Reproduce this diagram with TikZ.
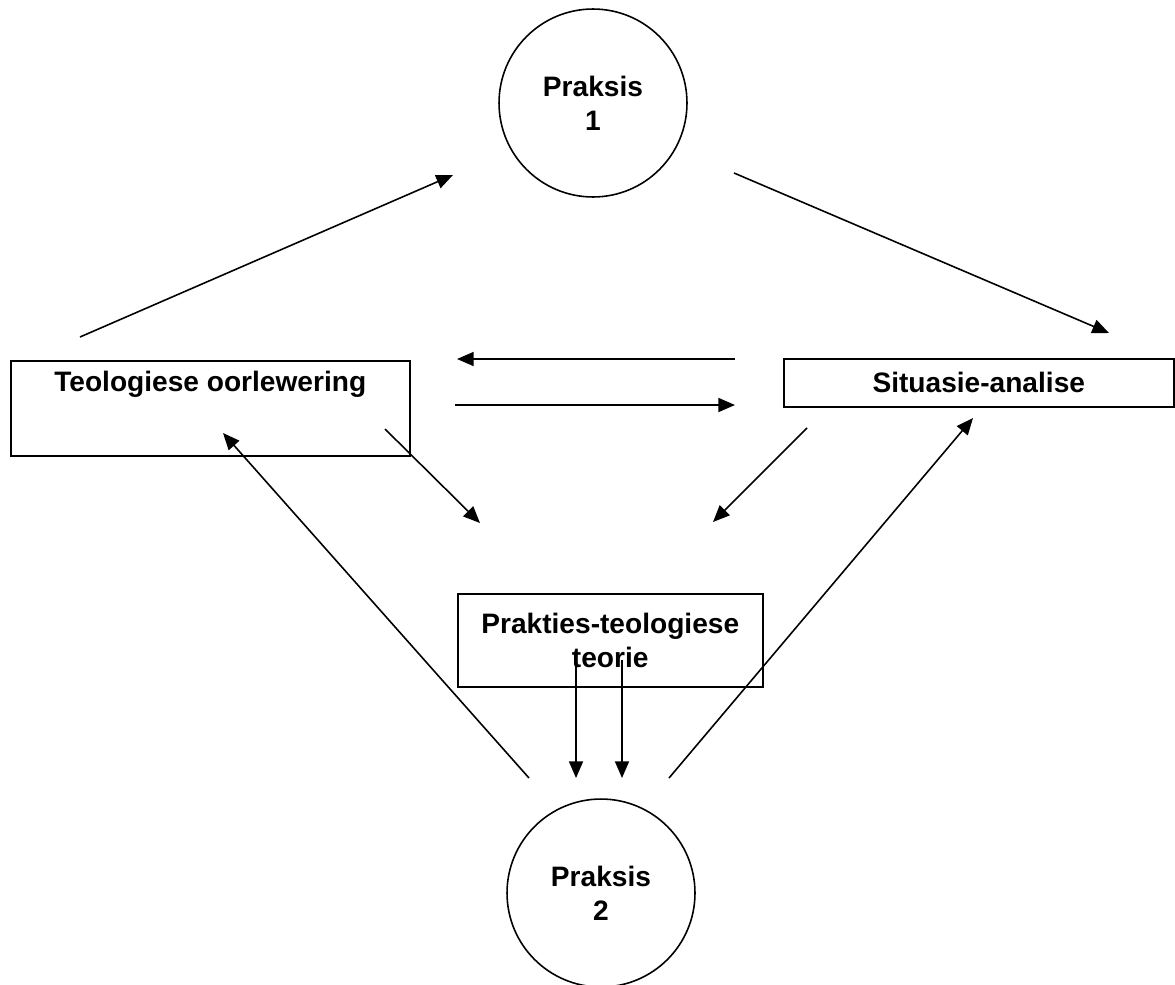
\documentclass[tikz,border=0pt]{standalone}
\usepackage{fontspec}
\setmainfont{Liberation Sans}
\usepackage{tikz}
\usetikzlibrary{arrows.meta}
\tikzset{
  kring/.style={draw, circle, line width=0.9pt, minimum size=3.76cm, inner sep=0pt,
    align=center, font=\fontsize{16}{19.3}\selectfont\bfseries},
  blok/.style={draw, rectangle, line width=0.9pt, inner sep=0pt,
    align=center, font=\fontsize{16}{19.3}\selectfont\bfseries},
  pyl/.style={line width=0.9pt, -{Triangle[length=9.5pt, width=8pt]}}
}

\begin{document}
\begin{tikzpicture}[x=0.02cm, y=-0.02cm]
            \useasboundingbox (0,0) rectangle (1175,984);

            % Circles
            \node[kring] (p1) at (593,103) {Praksis\\1};
            \node[kring] (p2) at (601,893) {Praksis\\2};

            % Boxes
            \node[blok, anchor=north west, minimum width=7.98cm, text height=0.62cm, text depth=1.28cm] (teo) at (10,360) {Teologiese oorlewering};
            \node[blok, anchor=north west, minimum width=7.8cm, minimum height=0.96cm] (sit) at (783,358) {Situasie-analise};
            \node[blok, anchor=north west, minimum width=6.1cm, minimum height=1.86cm] (teorie) at (457,593) {Prakties-teologiese\\teorie};

            % Free ends of the arrows
            \coordinate (a1) at (80,337);  \coordinate (b1) at (453,175);
            \coordinate (a2) at (734,173); \coordinate (b2) at (1109,333);
            \coordinate (a3) at (735,359); \coordinate (b3) at (457,359);
            \coordinate (a4) at (455,405); \coordinate (b4) at (735,405);
            \coordinate (a5) at (385,429); \coordinate (b5) at (480,523);
            \coordinate (a6) at (807,428); \coordinate (b6) at (713,522);
            \coordinate (a7) at (529,778); \coordinate (b7) at (223,433);
            \coordinate (a8) at (669,778); \coordinate (b8) at (973,418);
            \coordinate (a9) at (576,660); \coordinate (b9) at (576,778);
            \coordinate (a10) at (622,660); \coordinate (b10) at (622,778);

            % Arrows
            \foreach \i in {1,...,10}
                \draw[pyl] (a\i) -- (b\i);
\end{tikzpicture}
\end{document}
